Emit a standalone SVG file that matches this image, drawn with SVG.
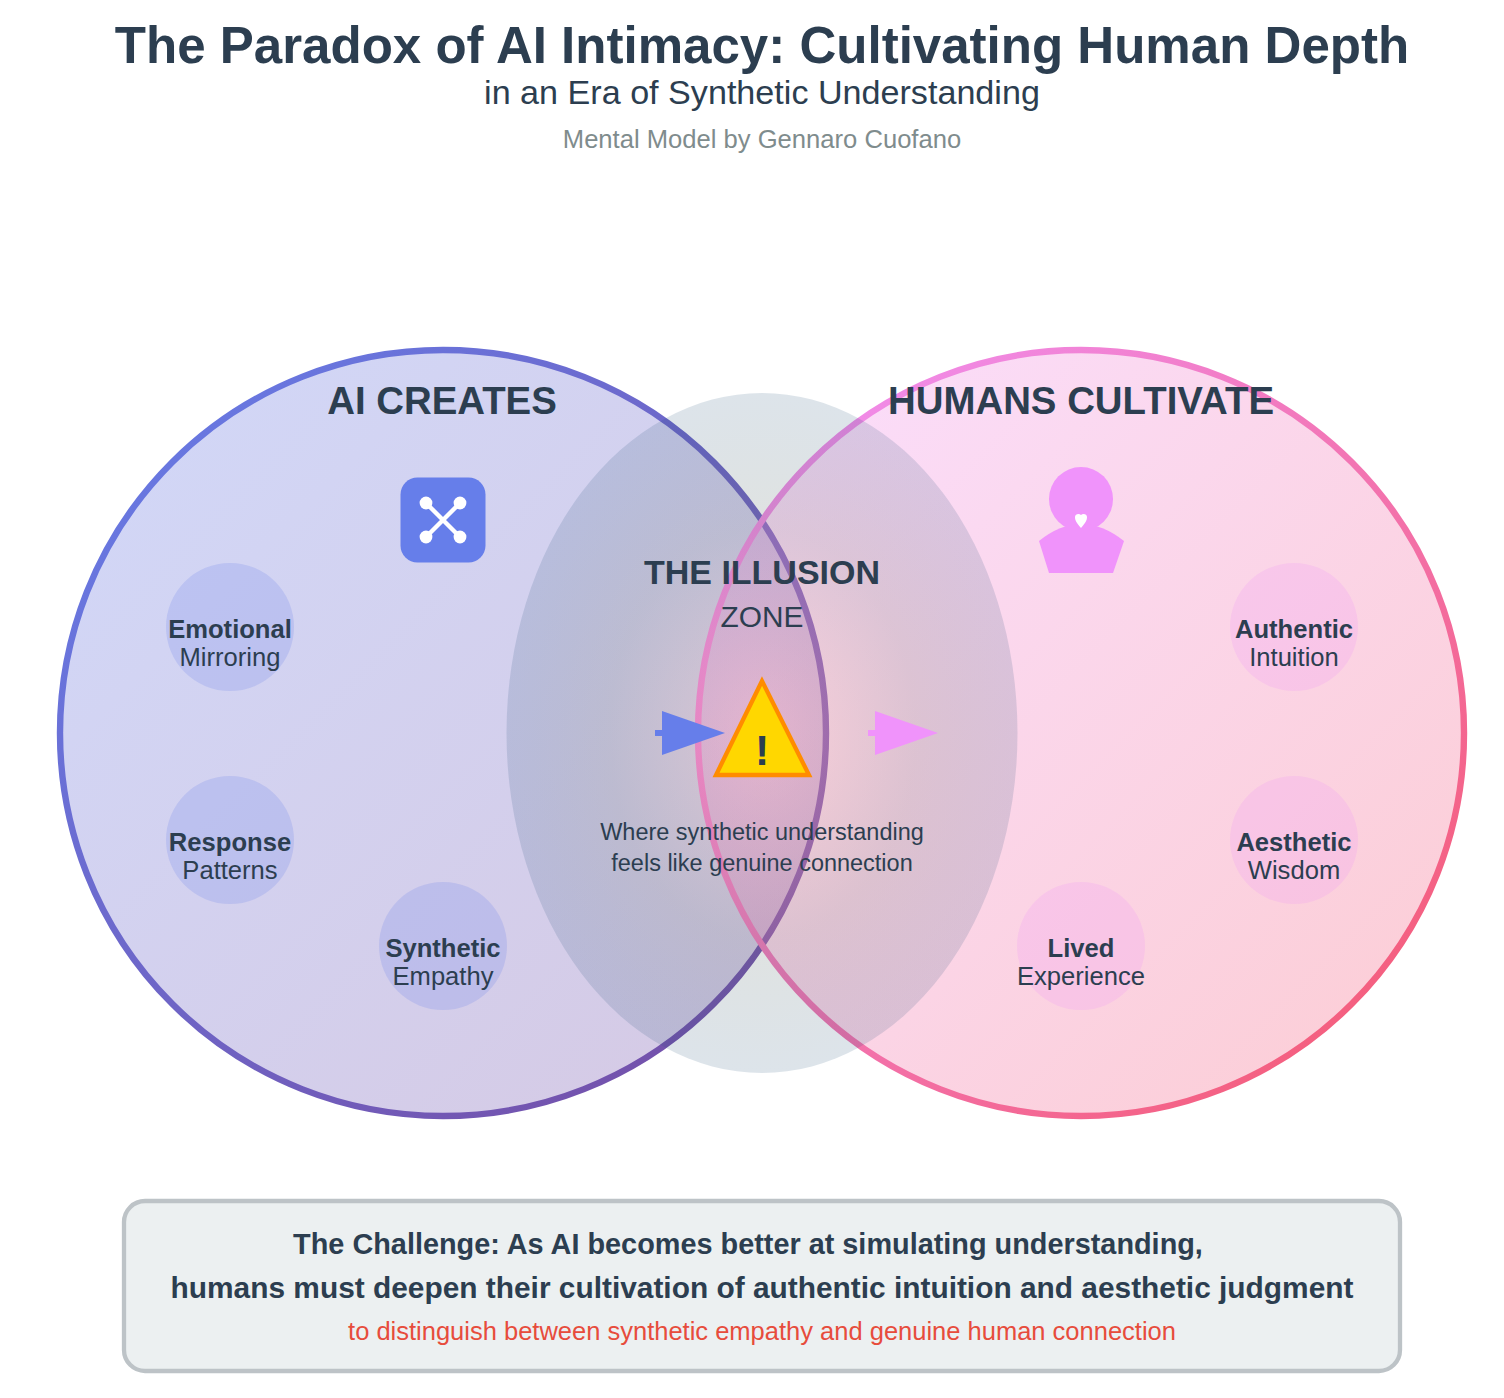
<svg xmlns="http://www.w3.org/2000/svg" width="1504" height="1398" viewBox="0 0 1504 1398">
<style>
text{font-family:"Liberation Sans",Arial,sans-serif;text-anchor:middle;fill:#2c3e50}
.b{font-weight:700}
.s{font-size:25.600px}
.d{font-size:23.470px}
.h{font-size:38.400px;font-weight:700}
.l{fill:#667eea;fill-opacity:.2}
.r{fill:#f093fb;fill-opacity:.2}
</style>
<defs>
<linearGradient id="ga" x1="0" y1="0" x2="1" y2="1"><stop offset="0" stop-color="#667eea"/><stop offset="1" stop-color="#764ba2"/></linearGradient>
<linearGradient id="gh" x1="0" y1="0" x2="1" y2="1"><stop offset="0" stop-color="#f093fb"/><stop offset="1" stop-color="#f5576c"/></linearGradient>
<radialGradient id="gi"><stop offset="0" stop-color="#ffb080" stop-opacity=".2"/><stop offset=".6" stop-color="#5a6a60" stop-opacity=".19"/><stop offset="1" stop-color="#1c4b73" stop-opacity=".15"/></radialGradient>
</defs>
<rect width="1504" height="1398" fill="#fff"/>
<g id="title">
<text x="762" y="63" font-size="51.050" class="b">The Paradox of AI Intimacy: Cultivating Human Depth</text>
<text x="762" y="104" font-size="34.130">in an Era of Synthetic Understanding</text>
<text x="762" y="148" font-size="25.600" style="fill:#7f8c8d">Mental Model by Gennaro Cuofano</text>
</g>
<g id="circle-ai"><circle cx="443" cy="733" r="383" fill="url(#ga)" fill-opacity=".3" stroke="url(#ga)" stroke-width="6.400"/></g>
<g id="circle-humans"><circle cx="1081" cy="733" r="383" fill="url(#gh)" fill-opacity=".3" stroke="url(#gh)" stroke-width="6.400"/></g>
<g id="illusion"><ellipse cx="762" cy="733" rx="255.500" ry="340" fill="url(#gi)"/></g>
<g id="connectors">
<rect x="655" y="730" width="10" height="6" fill="#667eea"/>
<polygon points="662,711 725,733 662,755" fill="#667eea"/>
<rect x="868" y="730" width="10" height="6" fill="#f093fb"/>
<polygon points="875,711 938,733 875,755" fill="#f093fb"/>
</g>
<g id="labels">
<text x="442" y="413.500" class="h">AI CREATES</text>
<text x="1081" y="413.500" class="h">HUMANS CULTIVATE</text>
<text x="762" y="584" font-size="34" class="b">THE ILLUSION</text>
<text x="762" y="627" font-size="29.870">ZONE</text>
<text x="762" y="840" class="d">Where synthetic understanding</text>
<text x="762" y="871" class="d">feels like genuine connection</text>
</g>
<g id="ai-icon">
<rect x="400.500" y="477.500" width="85" height="85" rx="17" fill="#667eea"/>
<path d="M426 503L460 537M460 503L426 537" stroke="#fff" stroke-width="4.300" fill="none"/>
<circle cx="426" cy="503" r="6.400" fill="#fff"/><circle cx="460" cy="503" r="6.400" fill="#fff"/><circle cx="426" cy="537" r="6.400" fill="#fff"/><circle cx="460" cy="537" r="6.400" fill="#fff"/>
</g>
<g id="human-icon">
<circle cx="1081" cy="499" r="32" fill="#f093fb"/>
<path d="M1039 541Q1081 507 1124 541L1113 573H1049Z" fill="#f093fb"/>
<path d="M1081 528C1076 522 1075 520 1075 517C1075 514 1079 513 1081 515C1083 513 1087 514 1087 517C1087 520 1086 522 1081 528Z" fill="#fff"/>
</g>
<g id="warning">
<polygon points="762,681 716,775 809,775" fill="#ffd700" stroke="#ff8c00" stroke-width="4.300"/>
<text x="762" y="765" font-size="42.670" class="b">!</text>
</g>
<g id="node-emotional"><circle class="l" cx="230" cy="627" r="64"/><text x="230" y="637.500" class="s b">Emotional</text><text x="230" y="665.500" class="s">Mirroring</text></g>
<g id="node-response"><circle class="l" cx="230" cy="840" r="64"/><text x="230" y="850.500" class="s b">Response</text><text x="230" y="878.500" class="s">Patterns</text></g>
<g id="node-synthetic"><circle class="l" cx="443" cy="946" r="64"/><text x="443" y="956.500" class="s b">Synthetic</text><text x="443" y="984.500" class="s">Empathy</text></g>
<g id="node-authentic"><circle class="r" cx="1294" cy="627" r="64"/><text x="1294" y="637.500" class="s b">Authentic</text><text x="1294" y="665.500" class="s">Intuition</text></g>
<g id="node-aesthetic"><circle class="r" cx="1294" cy="840" r="64"/><text x="1294" y="850.500" class="s b">Aesthetic</text><text x="1294" y="878.500" class="s">Wisdom</text></g>
<g id="node-lived"><circle class="r" cx="1081" cy="946" r="64"/><text x="1081" y="956.500" class="s b">Lived</text><text x="1081" y="984.500" class="s">Experience</text></g>
<g id="challenge">
<rect x="124" y="1201" width="1276" height="170" rx="21" fill="#ecf0f1" stroke="#bdc3c7" stroke-width="4.300"/>
<text x="748" y="1253.500" font-size="28.850" class="b">The Challenge: As AI becomes better at simulating understanding,</text>
<text x="762" y="1297.500" font-size="29.870" class="b">humans must deepen their cultivation of authentic intuition and aesthetic judgment</text>
<text x="762" y="1340" font-size="25.500" style="fill:#e74c3c">to distinguish between synthetic empathy and genuine human connection</text>
</g>
</svg>
